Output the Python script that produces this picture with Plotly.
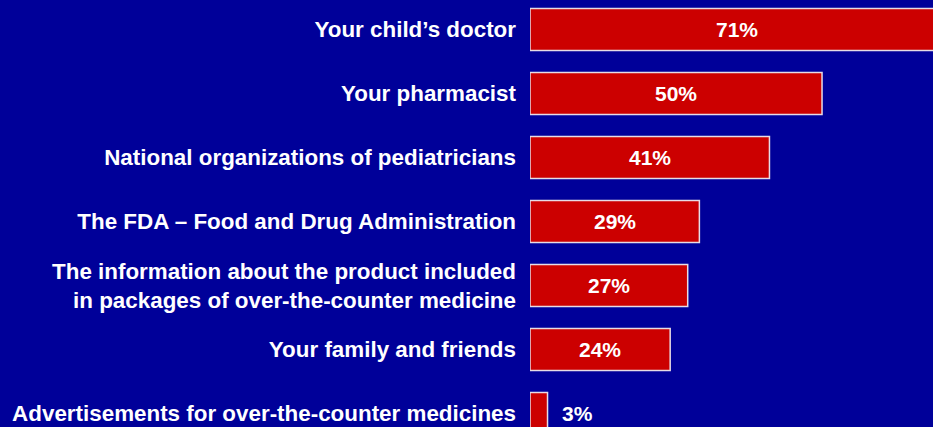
import plotly.graph_objects as go

categories = [
    "Your child\u2019s doctor",
    "Your pharmacist",
    "National organizations of pediatricians",
    "The FDA \u2013 Food and Drug Administration",
    "The information about the product included<br>in packages of over-the-counter medicine",
    "Your family and friends",
    "Advertisements for over-the-counter medicines",
]
values = [71, 50, 41, 29, 27, 24, 3]
value_labels = [f"{v}%" for v in values]

BG = "#000099"
FONT = "Arial, 'Liberation Sans', sans-serif"

fig = go.Figure(
    go.Bar(
        x=values,
        y=categories,
        orientation="h",
        marker=dict(color="#CC0000", line=dict(color="#E6DCE6", width=1.5)),
        hoverinfo="skip",
    )
)

annotations = []
for cat, v, lab in zip(categories, values, value_labels):
    if v >= 10:
        annotations.append(dict(x=v / 2, y=cat, xref="x", yref="y", text=lab,
                                showarrow=False, xanchor="center", yanchor="middle"))
    else:
        annotations.append(dict(x=v, y=cat, xref="x", yref="y", text=lab,
                                showarrow=False, xanchor="left", yanchor="middle", xshift=12))

fig.update_layout(
    width=933,
    height=427,
    paper_bgcolor=BG,
    plot_bgcolor=BG,
    margin=dict(l=530, r=0, t=0, b=0),
    bargap=0.344,
    showlegend=False,
    font=dict(family=FONT, color="white"),
    annotations=[dict(a, font=dict(family=FONT, size=21, color="white", weight="bold")) for a in annotations],
)
fig.update_xaxes(range=[0, 69.0], visible=False, showgrid=False, zeroline=False)
fig.update_yaxes(
    range=[6.211, -0.461],
    showgrid=False,
    zeroline=False,
    showline=False,
    ticks="",
    ticklabelstandoff=13,
    tickfont=dict(family=FONT, size=22.4, color="white", weight="bold"),
)

fig.write_html(
    "out.html",
    config={"displayModeBar": False},
    post_script="document.body.style.margin='0';document.body.style.overflow='hidden';",
)
